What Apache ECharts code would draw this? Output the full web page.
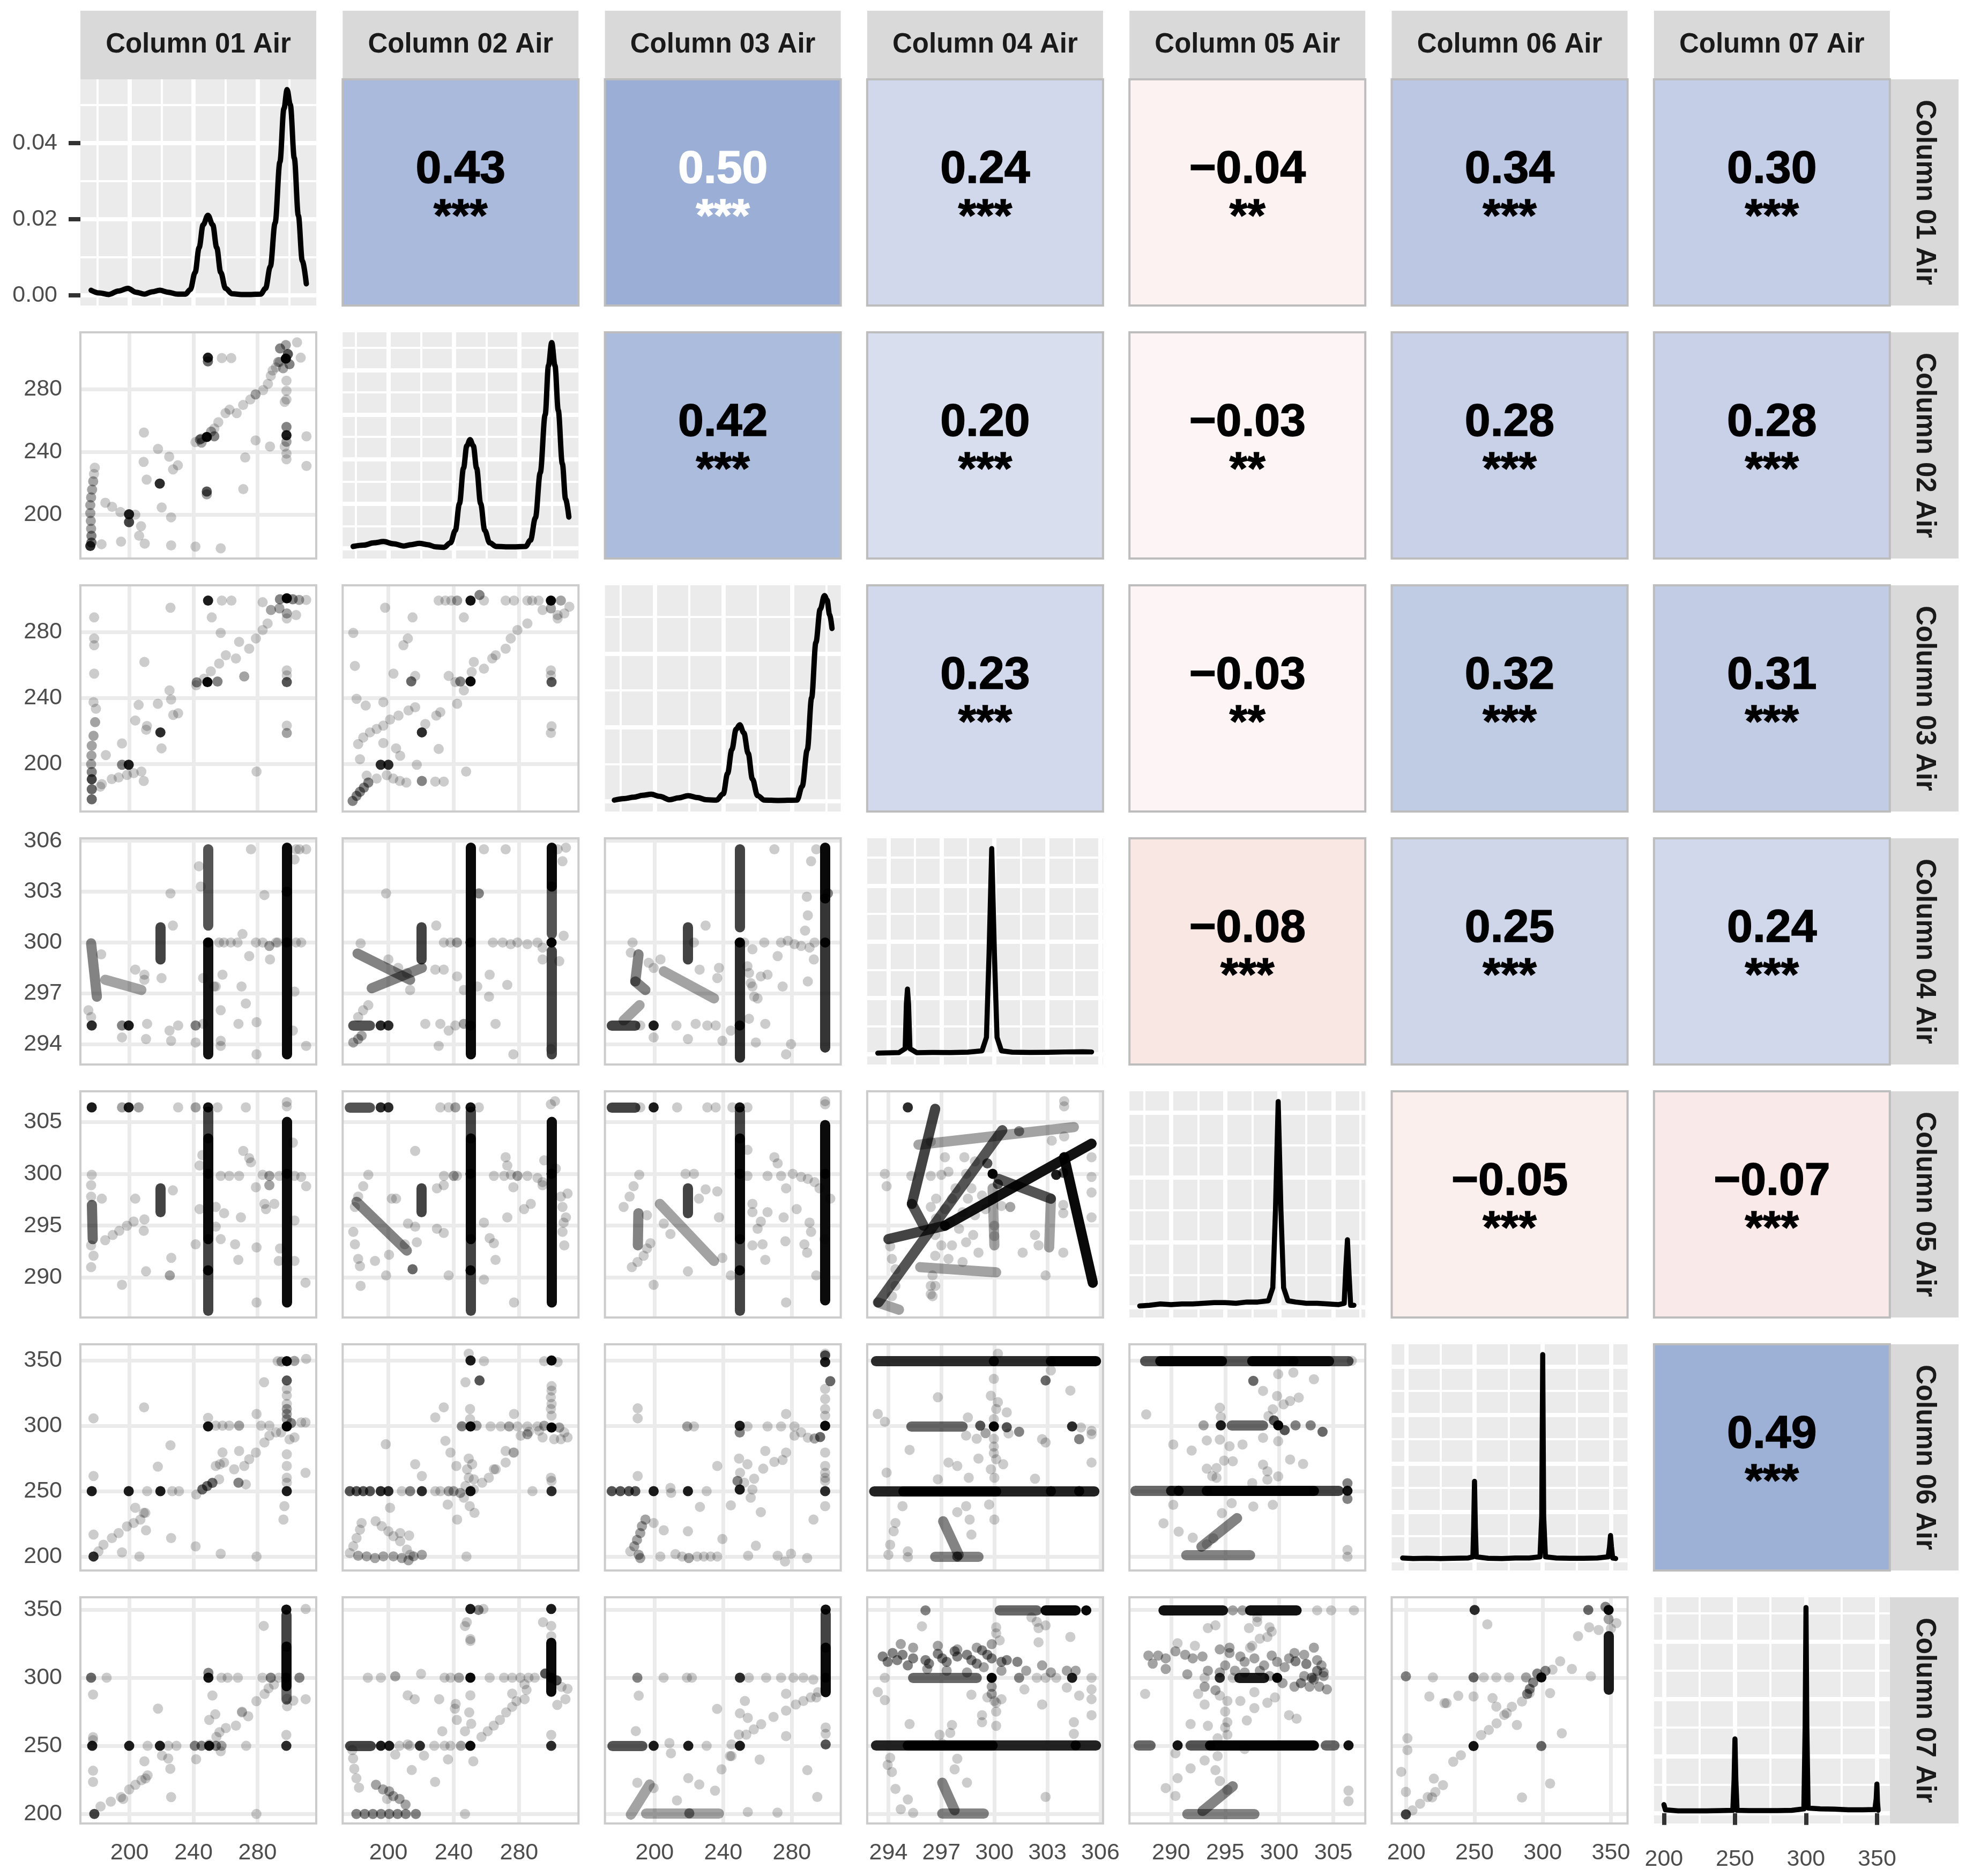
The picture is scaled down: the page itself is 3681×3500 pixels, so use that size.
<!DOCTYPE html>
<html><head><meta charset="utf-8">
<script src="https://cdn.jsdelivr.net/npm/echarts@6/dist/echarts.min.js"></script>
<style>html,body{margin:0;padding:0;background:#fff}#chart{width:3681px;height:3500px}</style>
</head><body><div id="chart"></div>
<script>
// ---------------- DATA ----------------
const VAR_NAMES = ['Column 01 Air','Column 02 Air','Column 03 Air','Column 04 Air','Column 05 Air','Column 06 Air','Column 07 Air'];
const VAR_MIN = [169.3, 172, 171, 292.8, 286.15, 189.3, 193];
const VAR_MAX = [316.7, 316.4, 308.5, 306.15, 307.95, 362.2, 359];
const VAR_BREAKS = [[200,240,280],[200,240,280],[200,240,280],[294,297,300,303,306],[290,295,300,305],[200,250,300,350],[200,250,300,350]];
const VAR_MINOR = [[180,220,260,300],[180,220,260,300],[180,220,260,300],[295.5,298.5,301.5,304.5],[287.5,292.5,297.5,302.5,307.5],[225,275,325],[225,275,325]];

// density curves (x, density)
const DENS_1 = [[176,0.0013],[181,0.0006],[187,0.0002],[193,0.0011],[199,0.0018],[204,0.0008],[209.5,0.0003],[214,0.0009],[219,0.0013],[224,0.0008],[230,0.0003],[235,0.0003],[238,0.0015],[241,0.006],[243.5,0.0125],[246,0.0185],[249,0.021],[252,0.0185],[254.5,0.0125],[257,0.006],[260,0.0018],[264,0.0004],[270,0.0002],[276,0.0002],[282,0.0003],[285,0.0018],[288,0.0075],[291,0.019],[294,0.035],[296.5,0.049],[298.5,0.054],[300.5,0.05],[303,0.036],[305.5,0.021],[308,0.009],[310.5,0.003]];
const DENS_2 = [[178.4,0.0004],[185,0.0007],[191,0.0012],[197,0.0015],[203,0.001],[209.5,0.0005],[214,0.0008],[219,0.0011],[224,0.0008],[229,0.0003],[234,0.0002],[238,0.0012],[241,0.004],[243.5,0.01],[246,0.018],[248,0.023],[250,0.0244],[252,0.023],[254,0.018],[256.5,0.01],[259,0.004],[262,0.0012],[266,0.0004],[275,0.0003],[284,0.0004],[287,0.0018],[290,0.0068],[293,0.017],[296,0.03],[298,0.041],[300,0.0462],[302,0.041],[304,0.031],[306.5,0.019],[308.5,0.011],[310.5,0.007]];
const DENS_3 = [[176.5,0.0003],[182,0.0007],[188,0.0011],[193,0.0016],[198,0.0019],[203,0.0013],[208.8,0.0004],[214,0.0009],[219.6,0.0015],[225,0.001],[230,0.0004],[236,0.0003],[240,0.002],[242.5,0.0075],[245,0.014],[247.5,0.0195],[249.6,0.0207],[252,0.0185],[254.5,0.013],[257,0.006],[260,0.0015],[264,0.0003],[272,0.0002],[283,0.0003],[286,0.004],[289,0.014],[291.5,0.028],[294,0.043],[296.5,0.052],[299,0.0557],[300.5,0.0545],[302,0.0505],[303.4,0.0468]];
const DENS_4 = [[293.4,0.01],[294,0.012],[294.6,0.015],[294.95,0.05],[295.02,0.45],[295.08,0.58],[295.14,0.45],[295.22,0.05],[295.6,0.014],[296.5,0.016],[297.5,0.015],[298.5,0.018],[299.3,0.03],[299.55,0.15],[299.7,0.9],[299.85,1.83],[300,0.9],[300.15,0.15],[300.4,0.03],[301,0.018],[302,0.016],[303,0.017],[304,0.02],[305,0.022],[305.5,0.02]];
const DENS_5 = [[287.1,0.002],[288,0.003],[289,0.005],[290,0.004],[291,0.005],[292,0.005],[293,0.006],[294,0.007],[295,0.007],[296,0.006],[297,0.008],[298,0.008],[299,0.01],[299.4,0.03],[299.65,0.15],[299.9,0.317],[300.15,0.15],[300.4,0.03],[300.8,0.01],[301.5,0.008],[302.5,0.006],[303.5,0.006],[304.5,0.005],[305.5,0.004],[306,0.006],[306.15,0.06],[306.3,0.104],[306.45,0.05],[306.6,0.003],[306.9,0.003]];
const DENS_6 = [[197.3,0.0009],[205,0.0007],[215,0.0008],[225,0.0007],[235,0.0008],[245,0.0009],[248.8,0.0014],[249.4,0.014],[250,0.0326],[250.6,0.014],[251.3,0.0014],[260,0.0008],[270,0.0007],[280,0.0009],[290,0.0009],[298,0.0014],[299.3,0.018],[300,0.085],[300.7,0.018],[302,0.0014],[310,0.0009],[320,0.0008],[330,0.0008],[340,0.0009],[348,0.0014],[349,0.0055],[349.7,0.0102],[350.4,0.0055],[351.3,0.0009],[353.5,0.0007]];
const DENS_7 = [[200,0.003],[201,0.0012],[210,0.0008],[220,0.0008],[230,0.0008],[240,0.0009],[248.5,0.001],[249.4,0.012],[250,0.026],[250.6,0.012],[251.5,0.001],[260,0.0009],[270,0.0009],[280,0.0009],[290,0.001],[298.5,0.0015],[299.4,0.03],[300,0.072],[300.6,0.03],[301.5,0.0018],[310,0.0015],[320,0.0014],[330,0.0012],[340,0.0012],[348.5,0.0013],[349.4,0.005],[349.9,0.0102],[350.3,0.004],[350.8,0.001]];
const DENS_PEAK = [0.054, 0.0462, 0.0557, 1.83, 0.317, 0.085, 0.072];
const DENS_BREAKS = [[0,0.02,0.04],[0,0.01,0.02,0.03,0.04],[0,0.02,0.04],[0,0.5,1,1.5],[0,0.1,0.2,0.3],[0,0.02,0.04,0.06,0.08],[0,0.02,0.04,0.06]];
const DENS_MINOR = [[0.01,0.03,0.05],[0.005,0.015,0.025,0.035,0.045],[0.01,0.03,0.05],[0.25,0.75,1.25,1.75],[0.05,0.15,0.25],[0.01,0.03,0.05,0.07],[0.01,0.03,0.05,0.07]];

// correlations (upper triangle): [row, col]
const CORR_CELLS = [[0,1],[0,2],[0,3],[0,4],[0,5],[0,6],[1,2],[1,3],[1,4],[1,5],[1,6],[2,3],[2,4],[2,5],[2,6],[3,4],[3,5],[3,6],[4,5],[4,6],[5,6]];
const CORR_VALUES = [0.43,0.50,0.24,-0.04,0.34,0.30,0.42,0.20,-0.03,0.28,0.28,0.23,-0.03,0.32,0.31,-0.08,0.25,0.24,-0.05,-0.07,0.49];
const CORR_STARS = ['***','***','***','**','***','***','***','***','**','***','***','***','**','***','***','***','***','***','***','***','***'];

// scatter points [x, y, overlapCount]; streaks [x1, y1, x2, y2, overlapCount]
const P12_PTS = [[249,300.2,10],[249,297.8,4],[257.7,300,1],[263.6,300,1],[297.7,299.6,20],[294.1,306.1,3],[297.7,308.3,2],[304.7,310,1],[307,300.2,1],[293,297.4,2],[300,296,3],[296,293.5,2],[299,302.5,5],
[241.2,246.3,1],[244.8,248.5,2],[253,255,1],[255.5,259,1],[260,264.8,1],[262.5,267,1],[267,264.8,1],[271,270,1],[275.5,273.5,1],[278.8,276.8,2],[283.5,279.5,1],[286.5,283.5,1],[288.3,288.7,1],[289.5,292,1],[291.5,294,1],[294,297.5,1],
[248.3,249.6,15],[244,248,3],[253,250,3],[245,246,2],[251,253,2],
[298.1,285.5,1],[298.1,279,1],[298.1,273.5,1],[297,272,1],[298.1,256,3],[298.1,250.7,10],[298.1,246.5,2],[297,243.5,1],[298.1,239,1],[298.1,235.4,1],
[310.6,250,1],[310.6,231.1,1],[278.8,247.4,1],[287.8,243.5,1],[272.3,236.5,1],[271.1,216.3,1],[248.3,214.8,5],[248.3,213,2],
[218.9,219.8,8],[209,252.4,1],[217.8,242,1],[224.8,237,1],[208.8,233.7,1],[230.2,231.5,1],[227.2,228.9,1],[210.7,222.4,1],[220.1,204.6,1],[226,198.3,1],
[199.7,200.2,10],[199.7,195.2,6],[184.9,207.6,1],[189.1,205,1],[194.3,201.7,1],[203.6,200,1],[207.2,192.6,1],[206,186.5,1],[194.7,182.8,1],[209.5,181.5,1],[226,180.4,1],[241.2,179.6,1],[257,178.5,1],
[178.3,230,1],[177.8,226,1],[177.3,221.3,2],[176.6,216,2],[176,211,2],[175.5,206.1,2],[175.5,201,2],[175.8,196,2],[176,191,2],[176.2,186.5,3],[176.2,182.2,4],[175.5,180,8],[182.5,181.1,1]];
const P12_SEGS = [];

const P13_PTS = [[249.1,299.2,10],[257.7,299.2,1],[263.7,299.2,1],[225.6,294.9,1],[177.9,289,1],[177.9,276.2,1],[177.9,272.1,1],[177.9,254.8,1],[209.3,261.9,1],[251.4,289,1],[257,279.6,1],
[298.3,300.6,20],[283.2,298.2,1],[288.4,293.5,2],[293.7,294.5,2],[298.3,291.4,2],[298.3,288.4,1],[304.1,290.4,1],[310.4,299.6,1],[306,299.6,2],[302,300,3],[294,300,3],
[241.7,247.7,1],[246.6,251.7,1],[250.8,256.2,1],[256,260.9,1],[260.2,266,1],[266.5,264,1],[268.5,274.1,1],[274.8,270,1],[279,276.2,1],[283.2,281.3,1],[286.3,285.3,1],[271.7,253.1,2],
[248.7,249.7,15],[242,249.5,3],[255,250,3],
[298.3,256.8,1],[298.3,253.8,1],[298.3,249.7,5],[298.3,223.2,1],[298.3,218.7,2],
[219.3,219.1,8],[225,244.6,1],[226,239.1,1],[217.7,236.5,1],[205.7,235.8,1],[210.9,223,1],[210.4,220.7,1],[203.6,226.3,1],[195.3,212.4,1],[185.2,205.3,1],[220,209.4,1],[227.3,229.7,1],[230.4,230.7,1],
[199.5,199.4,10],[195.3,199.4,3],[279.4,195.3,1],[208.9,189.6,1],[207.4,195.3,1],
[182.7,187.6,1],[188.9,190.7,1],[193.2,191.7,1],[198.4,193.2,1],[202.6,194.3,1],
[177.5,237.5,1],[179,233.5,1],[178.5,225.3,2],[177.5,217,2],[176.4,211,2],[176.2,205,2],[176,199.8,2],[176.4,195,3],[176.4,190.6,6],[176.4,184.5,4],[176.4,178.4,4],[181.7,186.1,1]];
const P13_SEGS = [];

const P23_PTS = [[230.8,299.2,1],[234.9,299.2,1],[238.5,299.2,1],[242.1,299.2,2],[250.3,299.2,12],[258.5,299.2,1],[255.8,302.6,3],[271.8,299.2,1],[276.9,299.2,1],[285.1,299.2,1],[299.5,299.2,20],[305.6,299.2,2],[310.8,295.5,1],[303.6,290.4,1],[307.7,291.4,1],[294.4,293.5,1],[303.6,288.4,1],[299.5,294.5,2],[288,299.2,1],[292,299.2,1],
[198,294.9,1],[214.8,289,1],[246.2,289,1],[178.5,279.6,1],[211.9,276.2,1],[209.2,272.1,1],[179.5,259.5,1],[203.1,254.8,1],[216.4,253.4,1],[214,250.1,4],
[236.9,253.4,1],[241,249.7,1],[246.2,244.6,1],[252.3,261.9,1],[251,255.8,1],[258.5,257.8,1],[263.6,264,1],[265.7,266,1],[271.8,270,1],[274.9,276.2,1],[279,281.3,1],[285.1,285.3,1],[242.1,236.5,1],
[250.3,250.1,15],[244,250,3],
[299.5,256.8,1],[299.5,253.8,1],[299.9,249.7,5],[299.9,222.8,1],[299.5,218.7,1],
[220.5,219.1,8],[230.8,209,1],
[181.5,212,1],[184.6,216,1],[188.7,219.1,1],[192.8,221.2,1],[196.9,223.2,1],[201,226.9,1],[206.2,229.3,1],[212.3,232.4,1],[216.4,234.4,1],[222.6,224.2,1],[229.3,229.3,1],[231.8,231.4,1],
[180.5,239.5,1],[186.1,235.4,1],[196.9,237.5,1],[182.6,202.8,1],[196.9,212.6,1],[204.7,209.4,1],[207.2,204.9,1],
[195.3,199.4,8],[200,199.4,8],[217.4,199.4,1],[247.6,195.3,1],
[199,193.1,1],[203,191,1],[207,189.6,1],[211,188.6,1],[220.5,189.6,3],[228.7,189.2,1],[233.9,189.2,1],
[178.1,177.4,3],[180.5,180.5,3],[182.6,183,3],[185,185.5,3],[187.7,188.6,3],[186.7,192.8,1],[192.8,191,1]];
const P23_SEGS = [];

const P14_PTS = [[249.1,300,15],[298.3,303,10],[298.3,300,20],
[174.3,296,1],[176,295.6,1],[176.4,295.1,8],[199.5,295.1,10],[195.3,295.1,3],[211,295.2,1],[195.3,294.4,1],[210.3,294.3,1],[225,294.8,1],[226,294.2,1],[230.4,295.1,1],
[225.6,302.9,1],[227.1,301,1],[203.6,298.4,1],[209.3,298.1,1],[209.3,297.8,1],[182.3,299.3,1],[220,297.9,1],[241.3,295.1,3],[246,295.2,1],
[256,300,1],[259,300,1],[263.3,300,1],[267.5,300,1],[270.6,300.5,1],[279,300,1],[283.2,300,1],[287.4,299.8,2],[291.6,300,1],
[275.9,305.5,1],[284.3,302.8,1],[257,294.2,1],[268.1,295.2,1],[272.7,296.4,1],[274.8,299.2,1],[270,297.4,1],[258.1,298.1,1],[253.9,297.4,1],[279.4,295.3,1],[279.4,293.4,1],[287.8,299,1],[292.6,300,1],
[304.1,300,1],[307.3,300,1],[310.4,293.9,1],[303.1,297.1,1],[302.1,294.8,1],[303.1,304.9,1],[310.4,305.5,1],[304.1,305.5,1],[306.2,305.5,1],
[243.4,304.5,1],[244.5,303.3,1],[246,297.9,1],[252.8,297.4,1],[257,296,1],[241.3,294.1,1],[257,293.9,1]];
const P14_SEGS = [[249.1,305.5,249.1,301,5],[249.1,300,249.1,293.4,12],[298.3,305.6,298.3,293.4,15],[219.3,300.9,219.3,299,6],[176,299.95,179.6,296.8,3],[184.8,297.8,207.4,297.2,2]];

const P24_PTS = [[299.9,300,20],[250.3,300,12],[250.3,295.1,8],
[255.4,302.9,3],[258.5,305.5,1],[271.8,305.5,1],[303.6,305.5,1],[308.7,305.6,1],[306.6,304.8,1],[229.3,301,1],[198.6,302.9,1],
[234,300,1],[238,300,1],[242,300,2],[264,300,1],[270,300,1],[274.9,299.9,1],[279,300,1],[285.1,299.9,1],[291.3,300,1],[294.4,299.7,1],
[307.3,300.4,1],[304.6,298.9,1],[294.4,299,1],[183,299.95,1],[200,299,1],[206,298.5,1],[211.3,298.2,1],[213.3,297.2,1],[228.7,298.4,1],[233.9,298.4,1],
[195.3,295.1,8],[200,295.1,8],[222.6,295.2,1],[231.8,295.2,1],[236.9,294.8,1],[241,295.1,1],[246.2,295.2,2],[265.6,295.2,1],
[178.5,294.1,2],[181.5,294.3,2],[183.6,294.5,2],[181.5,295.6,1],[184.5,296,1],[187.7,296.3,1],
[230.8,293.9,1],[276.5,293.4,1],[299.5,293.7,1],[242.1,298,1],[246.2,297.2,1],[254.4,297.4,1],[262,298.1,1],[272.8,297.5,1],[261.6,296.8,1]];
const P24_SEGS = [[250.3,305.6,250.3,293.4,15],[299.9,305.6,299.9,303.3,15],[299.9,303.3,299.9,300.5,5],[299.9,299.5,299.9,293.4,6],[220.1,300.9,220.1,299,6],[181.1,299.35,213.3,297.8,3],[189.8,297.3,220.5,298.5,3],[178.5,295.1,188.7,295.1,5]];

const P34_PTS = [[249.6,300,15],[249.6,295.1,8],[299.4,300,12],
[269.8,305.5,1],[294.2,305.5,1],[291.2,304.8,1],[288.7,302.7,1],[289.3,301.6,1],[301,302.9,3],[229.7,301,1],[222.9,300,1],
[252.2,300,1],[257,299.6,1],[263.9,300,1],[273.7,300,1],[277.6,300.1,1],[281.5,299.9,1],[285.4,299.8,1],[290.3,299.7,1],[293.2,300,1],
[187.1,300,1],[186.1,299.4,1],[196.5,298.8,1],[203.4,299,1],[199.4,298.5,1],
[199.4,295.1,10],[191.6,295.1,1],[199.4,294.4,1],[212.7,295.1,1],[223.9,295.2,1],[230.7,295.1,1],[235.6,295.1,1],[219.4,294.3,1],[239.5,294.2,1],
[226.2,298.4,1],[237.5,298.5,1],[236.5,297.9,1],
[254.1,298.6,1],[255,298.2,1],[256,297.6,1],[257,297.4,1],[258,296.8,1],[261.9,298,1],[265.8,298.1,1],[271.7,299.2,1],[274.6,297.4,1],[260,296.7,1],[255,295.5,1],[264.5,295.2,1],[259,294.1,1],[244.4,294.8,1],[276.6,293.4,1],[279.5,294,1],
[289.3,297.7,1],[287.7,300.7,1],[292.8,299,1]];
const P34_SEGS = [[249.6,305.5,249.6,300.9,6],[249.6,300,249.6,293.2,8],[299.4,305.6,299.4,302.6,15],[299.4,302.6,299.4,293.8,7],[219.4,300.9,219.4,299,6],[190.6,299.3,188.7,297.7,3],[188.7,297.7,194.6,297.2,3],[205.3,298.3,234.6,296.7,2],[191.2,296.3,181.9,295.4,2],[175,295.1,188.7,295.1,6]];

const P15_PTS = [[176.4,306.4,10],[199.5,306.4,10],[195.3,306.4,2],[205.7,306.4,2],[230.4,306.4,1],[249.1,306.4,12],[241.3,306.4,2],[255,306.4,1],[272.7,306.4,1],[298.3,306.9,1],[298.3,306.5,1],
[249.1,290.7,12],[176.4,299.9,1],[176,298.9,1],[176,297.8,1],[176,293.1,1],[177.5,292.1,1],[176,291,1],
[184.8,293.6,1],[189.5,294.1,1],[193.6,294.5,1],[198.4,295,1],[202.6,295.4,1],[208.9,294.5,1],[209.3,295.6,1],
[182.7,297.6,1],[203.6,297.6,1],[227.1,298.4,1],[210.3,290.6,1],[195.3,289.3,1],[225.2,290.2,2],[226.1,291.9,1],
[257,299.8,1],[262.3,299.8,1],[268.5,299.8,1],[283.2,299.9,1],[287.4,299.8,2],[293.7,299.8,1],[303.1,299.8,1],[307.3,299.7,1],[310.4,298.8,1],[298.3,300,15],[249.1,300,10],
[271.1,302.2,1],[274.8,301.5,1],[275.9,301.1,1],[279,298.7,1],[287.4,298.9,2],[284.3,297.1,1],[285.3,296.6,1],[290.5,297.1,1],
[253.9,296.8,1],[253.9,294.9,1],[259.1,296.2,1],[257,293.7,1],[266,293.2,1],[269.6,295.8,1],[268,291.7,1],[241.3,293.2,1],[243.8,296.6,1],[243.8,300.8,1],[245.5,301.8,1],
[279.4,287.6,1],[279.4,292.9,1],[293.3,291.6,1],[294.1,292.8,1],[303.1,295.5,1],[303.1,291.6,1],[310,289.5,1],[302.1,303,1]];
const P15_SEGS = [[249.1,306,249.1,303.4,6],[249.1,303.4,249.1,293.7,15],[249.1,293.7,249.1,286.8,6],[298.3,305,298.3,287.6,14],[219.3,298.6,219.3,296.3,6],[176.5,297,177,293.7,4]];

const P25_PTS = [[195.3,306.4,8],[200,306.4,8],[231.8,306.4,1],[236.9,306.4,1],[241,306.4,2],[250.3,306.4,12],[255.4,306.4,1],[299.5,306.7,1],[302,307,1],
[250.3,290.7,12],[250.3,300,10],[299.9,300,15],
[216.4,302.2,1],[187.7,299.9,1],[184.6,298.8,1],[181.5,297.8,1],[179.5,296.8,1],
[178.5,294.4,1],[179.5,293.2,1],[182.6,291.1,1],[181.5,291.8,1],[191.8,291.6,1],[200.4,292.2,1],[198.6,290.2,1],[183,289.2,1],[202.1,297.6,1],[204.7,297.6,1],[216.4,294.9,1],[217.4,293.4,1],[212,295.2,1],[210,293.2,1],
[214.8,290.8,4],[229.7,298.6,1],[233.9,298.9,1],[229.7,294.7,1],[233.9,294.3,1],[236.9,290.2,1],
[234,299.8,1],[240,299.8,2],[242,299.8,1],[264.6,299.8,1],[270.9,299.8,1],[275,299.9,1],[279,299.8,2],[285.1,299.8,1],[291.3,299.6,1],[294.4,299.2,1],
[271.8,301.6,1],[272.8,300.8,1],[276.5,298.7,1],[287.2,297.1,1],[283.1,296.6,1],[262,293.8,1],[264.6,293.3,1],[272.8,295.8,1],[265.6,291.7,1],[258.5,295.3,1],[258.5,289.8,1],[276.9,287.6,1],
[305.6,297.8,1],[306.6,296.8,1],[309.7,298.1,1],[308.7,295.8,1],[307.3,295.3,1],[306.6,294.4,1],[307.7,293.1,1],[294.4,298.9,1],[295.4,301.3,1],[302.5,300.5,1]];
const P25_SEGS = [[176.4,306.4,188.7,306.4,5],[250.3,306,250.3,303.4,6],[250.3,303.4,250.3,293.7,15],[250.3,293.7,250.3,286.8,6],[299.9,305,299.9,287.6,14],[220.1,298.6,220.1,296.3,6],[180.5,297.3,211.3,292.6,3]];

const P35_PTS = [[199.4,306.4,10],[191.6,306.4,1],[213.1,306.4,1],[230.7,306.4,1],[235.6,306.4,1],[249.6,306.4,12],[245.3,306.4,1],[254.1,306.4,1],[299.4,307,1],[299.4,306.7,1],
[249.6,290.7,12],[249.6,300,10],[299.4,300,15],[254.1,302.3,1],[269.8,301.6,1],[271.7,301,1],
[191,299.9,1],[187.7,298.8,1],[185.4,297.8,1],[181.9,296.8,1],[222.9,300,1],[218,300,1],
[205.3,295.2,1],[209.2,294.2,1],[195.5,296,1],[193.6,292.1,1],[190,291.5,1],[186.7,291,1],[197.5,293.3,1],[195.5,292.8,1],
[229.7,298.5,1],[225.8,297.6,1],[236.5,298.3,1],[237.5,295.8,1],[219.4,290.6,1],[199.4,289.3,1],[244.4,290.2,1],[239.5,291.9,1],
[254.1,299.8,1],[265.8,299.8,1],[273.7,299.8,1],[280.5,300,1],[285.4,299.7,1],[289.3,299.5,1],[293.2,299.2,1],[296.1,298.6,1],
[257,297.1,1],[265.8,296.3,1],[257,296.3,1],[260,294.7,1],[262.9,293.2,1],[257,293.1,1],[261.9,295.4,1],[264.5,291.7,1],[275.2,295.8,1],[276.6,298.6,1],[282.8,296.6,1],[290.3,295.3,1],[291.2,294.4,1],[288.9,292.4,1],[287.3,293.2,1],[276.2,293.5,1],[276.6,287.6,1],[294.2,290.2,1],[302.4,297.6,1],[299,293.7,1]];
const P35_SEGS = [[175,306.4,188.7,306.4,6],[249.6,306,249.6,303.4,6],[249.6,303.4,249.6,293.7,15],[249.6,293.7,249.6,286.8,6],[299.4,304.7,299.4,287.8,14],[219.4,298.6,219.4,296.2,6],[203,297.1,234.6,291.6,2],[190.5,296.2,190.2,293.1,3]];

const P45_PTS = [[295.1,306.4,8],[301.4,304.1,3],[299.9,300,20],[299.6,301,5],[300.2,299,5],[303.5,299.9,10],[303.9,300.1,5],
[303.95,307,1],[303.95,306.5,1],[303.95,303.6,1],[303.25,303.2,1],[305.5,301.6,1],[305.5,299.7,1],[305.5,298.2,1],[305.5,295.8,1],[303.9,297,1],[303.9,296.2,1],[303.9,292.4,1],[302.3,294.1,1],[302.5,293.1,1],[301.6,292.4,1],[302.9,290.2,1],[300.9,296.8,1],
[293.8,300,1],[293.9,298.8,1],[294.1,293,1],[294.2,291.8,1],[294.4,290.8,1],[294.4,289.2,1],[294.2,288.2,1],[296.4,289.2,1],[296.5,288.2,1],[295.3,299.8,1],[296.4,299.8,1],[297,299.9,1],
[296.4,303.1,1],[297.2,301.6,1],[298.3,301.6,1],[298.9,301.2,1],[297.4,300.2,1],[298.4,300,1],[297.8,298.6,1],[298.7,298.6,1],[296.7,297.6,1],[297.6,297.6,1],[298.5,297.6,1],[299.3,297.9,1],[296.4,296.8,1],[297.2,296.6,1],[298.2,296.3,1],[298.9,296,1],[296.7,295.7,1],[297.5,295.4,1],[298,294.7,1],[298.8,294.1,1],[296.65,294.1,1],[297,293.1,1],[297.6,293.1,1],[298.4,293.4,1],[299.1,292.4,1],[296.65,292.1,1],[297.4,291.8,1],[298.2,291.5,1],[296.5,290.2,1],[296.65,289.2,1],[296.4,288.4,1],[299.5,296.6,1],[300.4,296.9,1],[300.9,296.8,1],[300,295,1],[300,294,1]];
const P45_SEGS = [[296.65,306.26,295.33,297.1,6],[295.33,297.1,295.99,295,5],[295.7,302.8,304.5,304.5,2],[300.45,304.2,293.43,287.6,5],[294,293.7,297.2,295,6],[297.2,295,305.5,302.9,12],[300.25,299.5,303.2,297.6,5],[303.95,301.6,305.57,289.5,15],[303.2,297.6,303.1,292.9,2],[299.9,298.6,300,293.1,2],[295.8,291,300.1,290.5,2],[293.4,287.6,294.6,286.9,2]];

const P16_PTS = [[298.3,349.3,15],[292.6,349.3,1],[310.4,351,1],[303,349.5,2],[295,349,2],[298.3,334.5,5],
[298.3,328,1],[298.3,323,1],[298.3,316.6,1],[298.3,312.7,2],[298.3,308.9,2],[298.3,305,2],[298.3,299.4,20],[287.4,292.3,1],[291.6,294.8,1],[303.1,291,1],[300,289.5,1],[307.3,302.5,1],[294.7,294.8,1],[301,302,3],
[298.3,278.1,1],[298.3,269.2,1],[298.3,260.2,1],[298.3,256.4,1],[298.3,249.9,10],[296.8,238.5,1],[296.2,228.2,1],
[310,302.5,1],[310,264,1],[284.1,333.2,1],[279.4,308.9,1],
[249.1,299.4,12],[249.1,306,1],[253.9,300,1],[258.1,300,1],[262.3,300,1],[268.5,300,2],[282.2,300,1],[287.4,300,1],
[241.7,247.4,1],[245.5,251.3,4],[248.5,253.8,4],[251.8,256.3,4],[256,259,1],[253.9,269.2,1],[259.1,271.8,1],[265.4,266.6,1],[268.5,280.7,1],[271.7,269.2,1],[274.8,274.3,1],[279,279.4,1],[284.3,287.1,1],[268.1,256.4,3],[272.7,255.1,1],
[225.6,285,1],[217.7,268.7,1],[209.1,314,1],[177.5,305.6,1],[177.5,261.5,1],
[176.4,249.9,10],[199.5,249.9,10],[219.3,249.9,10],[211,249.9,1],[226.7,249.9,1],[230.9,249.9,1],[203.6,237.2,1],[208.9,233.3,1],
[177.5,200,8],[180.6,203.9,1],[183.7,209,1],[189,214.1,1],[193.2,217.9,1],[198.4,223,1],[202.6,225.6,1],[206.8,228.2,1],[209.9,233.3,1],
[177.5,216.7,1],[195.3,203.1,1],[206.2,200,1],[226,214.1,1],[210.3,220,1],[241.3,207.7,1],[257,202.1,1],[279.4,200,1],[258.1,279.5,1],[256.5,270.5,1]];
const P16_SEGS = [];

const P26_PTS = [[250.3,349.8,10],[258.5,349.3,1],[249.2,355,1],[255.8,334.5,5],[247.2,333.2,1],[233.9,314,1],[228.7,306.3,1],[250,312.7,1],[250,305,1],
[250.3,299.4,15],[245,299.5,3],[254,300,2],[262.6,299.4,1],[268.8,299.4,1],[273.9,299.4,2],[279,299.4,1],[285.1,299.4,1],[291.3,299.4,1],
[299.9,298.6,20],[295.4,299.9,2],[304.6,298.6,2],[307.7,294.8,1],[309.7,291,1],[305.6,289.7,1],[301.5,289.7,1],[294.4,291,1],[285.1,293.5,2],
[299.9,330.2,1],[299.9,326.8,1],[299.5,321.7,1],[299.9,316.6,1],[299.5,312.7,1],[299.9,307.6,1],[299.9,349.8,15],[295.4,349.3,1],[303.6,348.6,1],
[276.9,308.9,1],[271.8,280.7,1],[276.5,279.4,1],[264.6,266.6,1],[251.3,270.5,1],[249.2,274.8,1],
[234.9,288.4,1],[238,279.4,1],[241.6,269.2,1],[248.2,266.6,1],[252.3,259,1],
[246.2,244.9,1],[252.3,251.3,1],[257.4,256.4,1],[261.5,260.2,1],[265.7,266.6,1],[271.8,271.8,1],[276.9,279.4,1],[281,292.3,1],[286,295.3,1],[292.3,296.1,1],
[176.4,249.9,5],[180.5,249.9,5],[184.6,249.9,5],[188.7,249.9,5],[195.3,249.9,8],[200,249.9,8],[208.2,249.9,1],[213.3,249.9,3],[220.5,249.9,8],[228.7,249.9,1],[231.8,249.9,1],[236.9,249.9,2],[239.9,249.9,2],[244,248.6,2],[250.3,249.9,12],[247.2,253.8,1],[249.2,260.2,1],[249.8,238.5,1],[252.7,233.3,1],
[288.2,249.9,1],[299.9,249.9,8],[299.5,260.2,1],[299.9,257.7,1],
[220.5,261.5,1],[216.4,270.5,1],[242.1,228.2,1],[236.3,239.7,1],[247.8,200,1],[198.4,285.8,1],
[176.4,202.6,1],[178.5,207.8,1],[180.5,214.1,1],[182.6,220.5,1],[183.6,225.6,1],[192.2,227,1],[195.9,223.2,1],[200,219.3,1],[203.1,215.5,1],[207.2,211.6,1],[211.3,205.3,1],[213.3,201.3,1],
[181.5,200.6,2],[186.7,200.1,2],[191.8,198.8,2],[196.9,200.1,2],[203.1,200.1,2],[208.2,198.8,2],[212.3,197.1,2],[215.4,200.1,2],[220.5,201.3,2],
[201,237.2,1],[207.2,217.9,1],[212.7,216,1]];
const P26_SEGS = [];

const P36_PTS = [[299.4,353.7,5],[299.4,348.6,10],[299.4,355,1],[302.4,334,4],
[299.4,328.1,1],[299.4,320.4,1],[299.4,312.7,1],[299.4,307.6,1],[299.4,299.9,15],[296.5,291.3,4],[293.2,290.2,2],[289.3,290.8,1],[285.4,294.8,1],[281.5,292.3,1],
[299.4,279.4,1],[299.4,269.2,1],[299.4,264,1],[299.4,260.2,1],[299.4,257.7,1],[299.4,249.9,8],[299.4,238.5,1],[292.6,228.2,1],
[276.6,308.9,1],[249.6,299.9,10],[249.6,294.8,3],[254.1,299.4,1],[265.8,299.4,1],[273.7,299.4,1],[281.5,299.4,1],[219,299.4,2],[222.9,299.4,1],
[190.1,313.2,1],[190.1,305.6,1],
[264.5,280.7,1],[269.8,272.3,1],[274.6,273.8,1],[276.6,279.4,1],[249.2,274.8,1],[254.1,270.5,1],[249.8,264,1],[258,259.5,1],[263.3,267.1,1],[252.2,256.4,1],
[249.6,251.2,10],[248.3,257.7,3],[257,251.2,1],[256,244.9,1],[261.9,233.9,1],[244.4,239.1,1],[236.5,269.2,1],
[175,249.9,5],[180,249.9,5],[185,249.9,5],[188.7,249.9,5],[199.4,249.9,10],[209.2,252.4,1],[209.6,248.6,1],[219.4,249.9,10],[230.3,249.9,1],[226.4,237.9,1],[190.1,261.5,1],
[194.6,228.2,2],[192.6,223.2,2],[191.6,217.9,2],[189.7,212.7,2],[188.1,207.8,2],[185.8,203.9,1],[190.7,201.3,2],[191.6,198.8,2],[199.4,225.6,1],
[203.3,200,1],[212.1,201.8,1],[216,200,1],[219.9,198.8,2],[224.8,200,1],[228.7,200,1],[232.6,200,1],[236.5,200,1],
[205.3,220,1],[219.4,219.3,1],[239.5,213.4,1],[259,208.2,1],[254.5,200.6,1],[271.7,200.6,1],[276,196.2,1],[279.5,202.1,1],[288.9,198.8,1]];
const P36_SEGS = [];

const P46_PTS = [[299.97,349.3,10],[300.2,355,1],[299.97,335.8,1],[302.9,334.5,4],[303.2,342.2,1],[304.3,326.8,1],[296.8,321.7,1],[299.8,322.9,1],[300.2,318,1],[300.1,312.7,1],[300.7,310.2,1],[293.4,308.9,1],[293.8,303,1],[295.2,281.5,1],[297.4,271.8,1],[297.9,269.2,1],[299.8,266.6,1],[300.1,274.3,1],[300.5,270.5,1],[300,260.2,1],[299.1,274.8,1],[298.55,260.2,1],[302.3,259.5,1],[305.5,271.8,1],[293.9,264.1,1],[296.8,259,1],
[299.97,299.4,20],[299.2,300,5],[300.7,298.8,5],[298.5,306.3,1],[298.4,292.4,1],[299,290,1],[299.5,294.3,2],[300.8,294.1,1],[301.4,295.3,3],[302.9,287.1,1],[302.7,289.7,1],[304.4,299.4,8],[304.8,289.7,3],[304.9,298.6,1],[305.5,296,1],[305.5,293.5,1],[299.97,305,1],[299.97,290,1],[299.97,284,1],[299.97,279,1],
[294.8,238.5,1],[298.4,238.5,1],[299.7,239.7,1],[300,228.2,1],[298.6,228.2,1],[297.9,233.9,1],[294.4,225.6,1],[294.3,219.3,1],[294.1,209,1],[294,201.3,1],[295.1,203.9,1],[295.1,199.5,1],[298.7,216.7,1],
[303.2,249.9,8],[304.8,249.9,10],[297.9,200,4]];
const P46_SEGS = [[293.3,349.3,303.2,349.3,8],[303.2,349.3,305.75,349.3,20],[295.3,299.4,298.2,299.4,4],[293.2,249.9,305.66,249.9,9],[294.85,249.9,300.1,249.9,20],[297.1,226.9,297.98,201.3,3],[296.65,200,299.1,200,3]];

const P56_PTS = [[306.7,349.6,1],[297.6,334.2,4],[298.5,326.6,1],[299.9,339.4,1],[299.8,322.7,1],[301.3,340.6,1],[303.2,335.5,1],
[294.5,313.7,1],[294.6,306.6,1],[299,307.3,1],[299.4,312.5,1],[300.4,316.3,1],[301,318.9,1],[301.8,321.4,1],[287.7,308.6,1],
[293,300.2,2],[294.6,300.2,10],[299.9,300.2,20],[299.5,304,5],[300.5,296.5,5],[301.5,300.2,3],[302.9,300.2,3],[304,295.3,4],
[290.2,285.6,1],[291.9,281,1],[293.3,288.7,1],[294.5,289.4,1],[295.4,284.3,1],[296.6,285.6,1],[298.5,290.7,1],[299.9,288.1,1],[301,274.1,1],[302.2,270.7,1],[294.9,273.3,1],[295.7,272.8,1],[293.3,267.1,1],[294.2,267.6,1],[293.8,261.4,1],[294.2,260.2,1],[298.5,270.2,1],[298.9,265.1,1],[298.9,258.7,1],[299.9,261.2,1],[297.5,256.1,1],[299.4,239.5,1],[297.6,238.2,1],[295.6,240.7,1],[290.2,239.5,1],[289.3,225.4,1],[290.7,219,1],[292,214.4,1],[294.7,233.1,1],[293.3,209.3,1],[293.9,213.9,1],
[290.7,250.2,12],[306.3,250.2,12],[306.3,256,3],[306.3,244,3],[306.3,205,1],[306.3,199.8,1]];
const P56_SEGS = [[287.6,349.6,306.4,349.6,5],[289,349.6,294.7,349.6,15],[297.5,349.6,301.3,349.6,15],[301.3,349.6,304.6,349.6,9],[293.3,250.2,303.2,250.2,20],[286.7,250.2,290,250.2,4],[290,250.2,293.3,250.2,8],[303.2,250.2,305.5,250.2,6],[292.8,207.5,296.1,229.3,3],[291.4,201,297.3,201,3],[295.6,300.2,298.5,300.2,4]];

const P17_PTS = [[298,350,12],[310.1,350.4,1],[283.9,338,1],
[176,300,4],[185.7,300,1],[249.3,300,12],[257.5,300,1],[261.3,300,1],[267.7,300,1],[283.1,300,1],[288.3,300,3],[293.4,300,1],[298,300,20],[306.2,300,3],
[177.2,287.6,1],[217.8,277.3,1],[251.8,286.9,1],[253.6,273.1,1],[249.8,269,1],[249.3,303.5,3],
[241.6,240.1,1],[249.8,251,1],[254.3,256.5,1],[256.2,260,1],[260.2,263,1],[266.5,264.8,1],[270.3,274.5,1],[274.2,271.7,1],[279.3,282.8,1],[284.4,288,1],[286.9,292.2,1],[290.3,295,1],[270.3,275,1],
[298.5,284.6,1],[302.4,283.2,1],[310.1,284.2,1],[298.5,279,1],
[176.7,250,10],[199.8,250,10],[219,250,10],[211.3,250,1],[224.2,250,1],[229.3,250,1],[240.8,250,3],[245,250,3],[249.8,250,12],[254,250,3],[257.5,250,2],[272.9,250,1],[298,250,8],[298,258,1],[257,246,1],
[177.2,256.3,1],[177.2,254.2,1],[209.3,238.6,1],[210,226,1],[220.3,242.8,1],[224.2,240.7,1],[225.5,233.1,1],[226,212.4,1],[177.2,231.7,1],[177.2,223.5,1],
[178,200,6],[181.9,205.5,1],[188.3,209,1],[194.7,212.4,1],[199.8,218,1],[203.7,221.4,1],[207.5,224.8,1],[211.3,228.3,1],[196,211,1],[279.3,200,1]];
const P17_SEGS = [[298,346,298,322.8,6],[298,322.8,298,293.8,15],[298,293.8,298,284,4]];

const P27_PTS = [[250.2,350.4,10],[255.2,349.7,3],[258.2,350.4,1],[246.9,337.9,1],[248,340.7,1],[250.2,328.3,1],[250.2,326.9,1],
[299.7,350.4,10],[294.7,340.7,1],[299.7,338,1],[299.7,330.4,1],
[187.4,300,1],[195.4,300,1],[204.2,301,2],[220,302.8,1],[234.4,300,1],[238,300,1],[243.2,300,2],[250.2,300,15],[262,300,1],[270.8,300,1],[275.8,300,1],[280.8,300,1],[285.8,300,1],[289.6,300,1],[299.7,300,20],[296,303,5],[303,298,5],[306,293.2,1],[309.7,291.8,1],
[211.8,287,1],[216.1,284.2,1],[231.1,284.2,1],[250.2,287,1],
[257,256.5,1],[260.8,260.7,1],[264.5,264.8,1],[268.3,269,1],[272.1,274.5,1],[275.8,278.6,1],[278.4,282.8,1],[284.6,291,1],[283.4,295.2,1],
[241.2,280.7,1],[240.7,277.3,1],[241.9,269,1],[249.5,274.5,1],[250.7,266.2,1],[246.9,260.7,1],[275.8,288.3,1],[283.4,284.2,1],[308.4,284.2,1],[303.4,280,1],
[195.4,250,10],[200.5,250,10],[206.8,250,1],[213.1,250,1],[219.3,250,8],[228.1,250,1],[234.4,250,1],[238,250,1],[244.4,250,2],[250.2,250,15],[252,238.6,1],[299.7,250,8],[299.7,258,1],
[233,260.7,1],[221.8,242.8,1],[236.5,240,1],[211.8,251,1],[204.2,243.5,1],
[177.9,246.9,1],[178.4,240.7,1],[179.1,233.1,1],[180.4,226.2,1],[182,219.3,1],
[192.4,221.4,2],[196.7,218,2],[200.5,216.6,2],[203,213.1,2],[206.8,211,2],[210.5,206.9,2],
[180.4,200,3],[185.5,200,3],[190.5,200,3],[195.5,200,3],[200.5,200,3],[205.6,200,3],[210.6,200,3],[216.8,200,3],
[214.3,232.2,1],[228.6,223.5,1],[246.9,200,1],[199.2,211,1]];
const P27_SEGS = [[299.7,325.6,299.7,289.7,15],[176.6,250,189.2,250,6]];

const P37_PTS = [[299.7,350,12],[299.7,251,5],[299.7,258.8,1],[299.7,263.4,1],[294.3,285.5,1],[294.8,212.5,1],
[189.9,300,3],[205.2,300,1],[218.8,300,1],[221.7,300,1],[249.7,300,8],[254.9,300,1],[265,300,1],[273.7,300,1],[280.9,300,1],[286.7,300,1],[292.5,298.6,1],[299.7,300,15],
[190.7,286.8,1],[236.4,277.1,1],
[244.8,242.5,1],[253.4,258.2,1],[257.8,262,1],[262.1,265.9,1],[269.3,271.2,1],[276.6,275.8,1],[282.3,280.3,1],[286.7,282.9,1],[291,285.5,1],[295.3,289.4,1],
[249.7,273.8,1],[254.3,270.5,1],[252.6,282.9,1],[249.1,258.2,1],[276.6,288.2,1],[276.6,257.1,1],
[199.4,250,10],[219.6,250,10],[208.6,252,1],[230.3,250,1],[249.7,250,10],[244.8,251,1],[243.9,242.5,1],[239,232.7,1],[261.2,239.9,1],
[189,260.8,1],[209.5,244.5,1],[189.9,222.9,1],[199.4,219,1],[219.6,226.2,1],[226,221.6,1],[235.2,217.1,1],[213,209.9,1],[289,232.1,1],[254.3,201.4,1],[271.6,201,1],[220.2,200.5,3]];
const P37_SEGS = [[299.7,346.8,299.7,322,6],[299.7,322,299.7,289.4,15],[175.4,250,192.8,250,5],[186.1,199.5,197.1,221.6,2],[195,200.5,237.5,200.5,2]];

const P47_PTS = [[296.1,349.4,3],[305.2,349.4,15],
[302.1,344.2,1],[302.4,341,1],[302.9,338.3,1],[302.5,336.4,1],[300.1,337,1],[300.1,332.5,1],[300.3,327.3,1],[304.3,329.9,1],[302.5,326,1],[295.9,337.7,1],
[293.68,315.5,3],[294.24,318.1,3],[294.8,316.8,3],[294.5,312.9,3],[295.4,314.2,3],[293.96,311.6,3],[295.1,309,3],[296.1,312.9,3],[296.3,310.3,3],[296.8,317.5,3],[297.05,314.2,3],[297.3,311.6,3],[297.75,319.4,3],[297.9,315.5,3],[298.45,316.8,3],[298.7,312.9,3],[299,310.3,3],[299.3,320.1,3],[299.6,316.8,3],[299.85,314.2,3],[300.4,311.6,3],[300.7,312.9,3],[301.3,311.6,3],[294.7,324.7,2],[295.4,322,2],[296.8,323.4,2],[297.9,320.7,2],[299,322,2],[299.85,324.6,2],[296.2,306.4,2],[297.3,305.1,2],[298.45,303.8,2],[299.4,307.7,2],[300.4,305.1,2],[301.8,305.1,2],[302.7,309,2],[303.2,303.8,2],[304.1,305.1,2],[304.6,305.1,2],
[299.85,299.9,20],[301.4,299.9,3],[302.4,299.9,1],[302.9,299.9,1],[303.5,299.9,1],[304.4,299.9,10],[305.5,299.9,1],[293.8,299.9,1],
[299.85,293.4,2],[299.85,288.1,2],[300,282.9,1],[300.1,275.1,1],[300.1,281.6,1],
[293.4,289.5,1],[293.8,283.6,1],[298.7,287.5,1],[299.6,285.5,1],[300.4,284.2,1],[301.7,291.4,1],[302.7,280.3,1],[304.1,292.7,1],[304.8,286.8,1],[305.5,291.4,1],[305.5,284.2,1],[305.5,272.5,1],
[295.2,266,1],[297.6,265.3,1],[297.5,259.5,1],[296.9,258.1,1],[297.05,251.6,1],[299.3,272.5,1],[299.3,267.3,1],[300.1,264.7,1],
[296.5,250.3,10],[304.6,250.3,12],
[294.1,241.2,1],[293.96,236,1],[294.2,230.8,1],[294.4,218.4,1],[295.1,210.6,1],[294.7,203.4,1],[295.4,200.8,1],
[297.75,232.7,1],[298.45,223,1],[297.9,240.5,1],[302.9,212.5,1],[304.5,258.8,1],[304.5,267.3,1]];
const P47_SEGS = [[300.3,349.4,302.4,349.4,4],[302.9,349.4,304.6,349.4,15],[295.4,299.9,299,299.9,4],[293.3,250.3,305.75,250.3,9],[295.1,250.3,299.9,250.3,20],[297.05,222.9,297.75,202.7,3],[297.05,200.5,299.4,200.5,3]];

const P57_PTS = [[295.7,349.4,2],[296.6,349.4,2],[303.5,349.4,1],[304.8,349.4,1],[306.9,349.4,1],
[297.96,344.2,1],[297.96,341,1],[293.4,336.4,1],[294.1,338.4,1],[297.2,336.4,1],[299.1,337,1],[299.3,333.8,1],[298.2,328.6,1],[298.9,329.9,1],[297.5,323.4,1],[297.3,322,1],[290.6,325.3,1],[292.2,323.4,1],
[287.9,316.2,2],[288.8,316.2,2],[289.5,314.2,2],[290.4,319.4,2],[291.3,316.8,2],[292,314.2,2],[292.9,315.5,2],[294.5,320.7,2],[295.4,318.1,2],[296.4,315.5,2],[296.8,311.6,2],[297.7,314.2,2],[298.6,309,2],[299.3,316.2,2],[299.8,311.6,2],[300.5,307.7,2],[300.9,314.2,2],[301.4,318.1,2],[302.3,316.8,2],[303.2,322,2],[303.5,312.9,2],[303.9,309,2],[304.1,303.8,2],[304.1,301.2,2],[303.2,298.6,2],[303.7,293.4,2],[304.4,291.4,2],[295.4,322,2],[295,309,2],[293.4,305.1,2],[294.5,303.8,2],[295.9,305.1,2],[296.8,303.8,2],[298.2,305.1,2],[299.1,301.2,2],[300.3,296,2],[301.4,293.4,2],[302.3,301.2,2],[302.8,293.4,2],[288.3,310.3,2],[289.5,306.4,2],[291.5,302.5,2],[293.1,293.4,2],[294.1,290.8,2],
[302.5,310,3],[303.5,305,3],[301.5,312,3],[303,300,3],[302,296,3],
[294.5,299.9,8],[299.8,299.9,20],[293.1,299.9,1],[295.7,299.9,1],[303.2,299.9,1],
[287.6,288.1,1],[292.5,288.1,1],[294.5,286.8,1],[295.2,282.9,1],[296.4,282.9,1],[297.7,289.4,1],[298.9,281.6,1],[293.1,280.3,1],[295,275.1,1],[295.2,267.3,1],[297,268.6,1],[300.9,272.5,1],[301.6,269.9,1],[297.7,277.7,1],[299.6,285.5,1],
[290.6,250.3,12],[306.4,250.3,12],
[291.8,266,1],[293.4,264.7,1],[295,263.4,1],[294.3,255.5,1],[295.2,258.1,1],[290.4,244.5,1],[290.6,226.2,1],[289.5,219,1],[290.4,213.2,1],[294.3,242.5,1],[291.8,233.4,1],[293.1,239.2,1],[294.1,232.1,1],[294.5,224.2,1],[296.8,247.7,1],[295.2,217.7,1],[306.4,217.1,1],[306.4,209.3,1]];
const P57_SEGS = [[289.3,349.4,294.8,349.4,12],[297.3,349.4,301.6,349.4,12],[296.3,299.9,298.6,299.9,10],[287,250.3,288.1,250.3,4],[291.8,250.3,293.6,250.3,5],[293.6,250.3,303.2,250.3,20],[304.3,250.3,305.1,250.3,4],[292.9,202.1,295.7,220.3,3],[291.5,200.1,297.7,200.1,3]];

const P67_PTS = [[250.1,349.7,8],[333.4,349.7,4],[348.3,349.7,15],[346,352,3],
[259.4,339.1,1],[348.3,343,2],[354,340,1],[341,335,1],[325.9,330.5,1],[334,337,1],[350,336,1],
[199.7,301,3],[219.5,300.2,1],[238.1,286.7,1],[249.3,300.2,4],[249.3,286.2,1],[256.8,300.2,1],[266,300.2,1],[275.4,300.2,1],[287.8,300.2,2],[299,300.2,15],[293,296.5,3],[290.5,291.7,3],[288.6,288,3],[307.2,305.9,1],[312.8,312,1],[321.4,306.4,1],[335.3,301,1],[305.4,288.7,1],[296,303,3],[302,305,3],
[199.7,199.7,6],[204.5,202.6,1],[210.1,207.5,1],[215.7,212.4,1],[221.3,216.1,1],[226.9,221.1,1],[234.4,238.3,1],[240,243.1,1],[249.3,249.8,12],[254.9,257.9,1],[260.5,261.6,1],[266.2,266.5,1],[271.8,272.6,1],[277.4,278.7,1],[284.8,282.5,1],[290.4,288.7,1],
[229.5,281.3,1],[263.2,285,1],[266,278.8,1],[273.6,273.9,1],[281.1,265.3,1],[314,259.2,1],[305.4,222.3,1],[284.8,212.1,1],[200.8,255.5,1],[200.8,246.9,1],[196.3,230.9,1],[199.7,216.2,1],[216.9,286.2,1],[228,281.3,1],[220.2,225.9,1],[299,249.8,4],[218.9,212.2,1]];
const P67_SEGS = [[348.3,330.5,348.3,291.1,10]];

// [xVar, yVar, points, streaks]
const SCATTER_PANELS = [
  [0,1,P12_PTS,P12_SEGS],[0,2,P13_PTS,P13_SEGS],[1,2,P23_PTS,P23_SEGS],
  [0,3,P14_PTS,P14_SEGS],[1,3,P24_PTS,P24_SEGS],[2,3,P34_PTS,P34_SEGS],
  [0,4,P15_PTS,P15_SEGS],[1,4,P25_PTS,P25_SEGS],[2,4,P35_PTS,P35_SEGS],[3,4,P45_PTS,P45_SEGS],
  [0,5,P16_PTS,P16_SEGS],[1,5,P26_PTS,P26_SEGS],[2,5,P36_PTS,P36_SEGS],[3,5,P46_PTS,P46_SEGS],[4,5,P56_PTS,P56_SEGS],
  [0,6,P17_PTS,P17_SEGS],[1,6,P27_PTS,P27_SEGS],[2,6,P37_PTS,P37_SEGS],[3,6,P47_PTS,P47_SEGS],[4,6,P57_PTS,P57_SEGS],[5,6,P67_PTS,P67_SEGS]
];
const DENS_CURVES = [DENS_1, DENS_2, DENS_3, DENS_4, DENS_5, DENS_6, DENS_7];

// ---------------- LAYOUT / STYLE ----------------
const PX0 = 150, PSTEPX = 489.3, PW = 440;
const PY0 = 148, PSTEPY = 472, PH = 422;
const FONT = 'Liberation Sans';
const colLeft = i => PX0 + i * PSTEPX;
const rowTop = j => PY0 + j * PSTEPY;
const alpha = n => 1 - Math.pow(0.8, n);

function corrFill(v) {
  const stops = [[-0.1,[247,225,222]],[-0.05,[251,239,238]],[0,[255,255,255]],[0.2,[217,222,238]],[0.5,[155,175,214]]];
  if (v <= stops[0][0]) return 'rgb(' + stops[0][1].join(',') + ')';
  for (let k = 1; k < stops.length; k++) {
    if (v <= stops[k][0]) {
      const t = (v - stops[k-1][0]) / (stops[k][0] - stops[k-1][0]);
      const c = stops[k-1][1].map((a, i) => Math.round(a + (stops[k][1][i] - a) * t));
      return 'rgb(' + c.join(',') + ')';
    }
  }
  return 'rgb(' + stops[stops.length-1][1].join(',') + ')';
}

const option = { animation: false, backgroundColor: '#ffffff', grid: [], xAxis: [], yAxis: [], series: [], graphic: { elements: [] } };

function addGrid(c, r, bg) {
  option.grid.push({ left: colLeft(c), top: rowTop(r), width: PW, height: PH, show: !!bg, backgroundColor: bg || 'transparent', borderWidth: 0, containLabel: false });
  return option.grid.length - 1;
}
function makeAxis(gi, min, max, breaks, lineColor, lineWidth, labelOpt, tickOpt) {
  return {
    type: 'value', gridIndex: gi, min: min, max: max,
    axisLine: { show: false },
    axisTick: Object.assign({ show: false, customValues: breaks }, tickOpt || {}),
    axisLabel: Object.assign({ show: false, customValues: breaks }, labelOpt || {}),
    splitLine: { show: lineWidth > 0, lineStyle: { color: lineColor, width: lineWidth } },
    minorTick: { show: false }, minorSplitLine: { show: false }, splitArea: { show: false }
  };
}
const LABEL_BASE = { show: true, fontSize: 43, color: '#4D4D4D', fontFamily: FONT };
const TICK_ON = { show: true, length: 22, inside: false, lineStyle: { color: '#333333', width: 8 } };

// Diagonal density panels
for (let i = 0; i < 7; i++) {
  const gi = addGrid(i, i, '#EBEBEB');
  const P = DENS_PEAK[i];
  const ymin = -0.05 * P, ymax = 1.05 * P;
  const xLab = i === 6 ? Object.assign({}, LABEL_BASE, { margin: 46 }) : null;
  const xTick = i === 6 ? TICK_ON : null;
  const yLab = i === 0 ? Object.assign({}, LABEL_BASE, { margin: 43, formatter: v => Number(v).toFixed(2) }) : null;
  const yTick = i === 0 ? TICK_ON : null;
  option.xAxis.push(makeAxis(gi, VAR_MIN[i], VAR_MAX[i], VAR_BREAKS[i], '#FFFFFF', 8, xLab, xTick));
  const xi = option.xAxis.length - 1;
  option.yAxis.push(makeAxis(gi, ymin, ymax, DENS_BREAKS[i], '#FFFFFF', 8, yLab, yTick));
  const yi = option.yAxis.length - 1;
  option.xAxis.push(makeAxis(gi, VAR_MIN[i], VAR_MAX[i], VAR_MINOR[i], '#FFFFFF', 4));
  option.yAxis.push(makeAxis(gi, ymin, ymax, DENS_MINOR[i], '#FFFFFF', 4));
  option.series.push({
    type: 'line', xAxisIndex: xi, yAxisIndex: yi, data: DENS_CURVES[i], showSymbol: false, symbol: 'none', silent: true,
    smooth: i < 3 ? 0.35 : false, smoothMonotone: 'x', clip: true,
    lineStyle: { color: '#000000', width: i < 3 ? 10 : 9.5, join: 'round', cap: 'round' }, z: 3
  });
}

// Lower scatter panels
SCATTER_PANELS.forEach(function (p) {
  const c = p[0], r = p[1];
  const gi = addGrid(c, r, '#FFFFFF');
  const xLab = r === 6 ? Object.assign({}, LABEL_BASE, { margin: 34 }) : null;
  const yLab = c === 0 ? Object.assign({}, LABEL_BASE, { margin: 34 }) : null;
  option.xAxis.push(makeAxis(gi, VAR_MIN[c], VAR_MAX[c], VAR_BREAKS[c], '#EBEBEB', 7, xLab));
  const xi = option.xAxis.length - 1;
  option.yAxis.push(makeAxis(gi, VAR_MIN[r], VAR_MAX[r], VAR_BREAKS[r], '#EBEBEB', 7, yLab));
  const yi = option.yAxis.length - 1;
  if (p[3].length) {
    option.series.push({
      type: 'lines', coordinateSystem: 'cartesian2d', xAxisIndex: xi, yAxisIndex: yi, polyline: false, silent: true, z: 2,
      lineStyle: { color: '#000000', width: 19, cap: 'round', curveness: 0 },
      data: p[3].map(s => ({ coords: [[s[0], s[1]], [s[2], s[3]]], lineStyle: { opacity: alpha(s[4]) } }))
    });
  }
  option.series.push({
    type: 'scatter', xAxisIndex: xi, yAxisIndex: yi, symbolSize: 19, silent: true, z: 3,
    itemStyle: { color: '#000000' },
    data: p[2].map(q => ({ value: [q[0], q[1]], itemStyle: { opacity: alpha(q[2]) } }))
  });
  option.graphic.elements.push({ type: 'rect', z: 10, silent: true, shape: { x: colLeft(c), y: rowTop(r), width: PW, height: PH }, style: { fill: 'none', stroke: '#CCCCCC', lineWidth: 4 } });
});

// Upper correlation panels
CORR_CELLS.forEach(function (cell, k) {
  const r = cell[0], c = cell[1];
  const v = CORR_VALUES[k];
  const gi = addGrid(c, r, corrFill(v));
  option.xAxis.push(makeAxis(gi, 0, 1, [], '#000', 0));
  const xi = option.xAxis.length - 1;
  option.yAxis.push(makeAxis(gi, 0, 1, [], '#000', 0));
  const yi = option.yAxis.length - 1;
  const txt = (v < 0 ? '\u2212' : '') + Math.abs(v).toFixed(2);
  const col = Math.abs(v - 0.50) < 1e-9 ? '#FFFFFF' : '#000000';
  option.series.push({
    type: 'scatter', xAxisIndex: xi, yAxisIndex: yi, symbolSize: 1, silent: true, z: 4,
    itemStyle: { color: 'rgba(0,0,0,0)', opacity: 1 },
    label: { show: true, position: 'inside', formatter: q => q.name, fontSize: 86, fontWeight: 'bold', fontFamily: FONT,
      color: col, opacity: 1, textBorderWidth: 1.5, textBorderColor: col },
    data: [{ value: [0.5, 1 - 169 / PH], name: txt }, { value: [0.5, 1 - 259 / PH], name: CORR_STARS[k] }]
  });
  option.graphic.elements.push({ type: 'rect', z: 10, silent: true, shape: { x: colLeft(c), y: rowTop(r), width: PW, height: PH }, style: { fill: 'none', stroke: '#BDBDBD', lineWidth: 4 } });
});

// Strips
for (let i = 0; i < 7; i++) {
  option.graphic.elements.push({ type: 'rect', silent: true, shape: { x: colLeft(i), y: 20, width: PW, height: 128 }, style: { fill: '#D9D9D9' } });
  option.graphic.elements.push({ type: 'text', silent: true, x: colLeft(i) + PW / 2, y: 84,
    style: { text: VAR_NAMES[i], align: 'center', verticalAlign: 'middle', textAlign: 'center', textVerticalAlign: 'middle', fontSize: 51, fontWeight: 'bold', fontFamily: FONT, fill: '#1A1A1A' } });
  option.graphic.elements.push({ type: 'rect', silent: true, shape: { x: 3526, y: rowTop(i), width: 128, height: PH }, style: { fill: '#D9D9D9' } });
  option.graphic.elements.push({ type: 'text', silent: true, x: 3590, y: rowTop(i) + PH / 2, rotation: -Math.PI / 2,
    style: { text: VAR_NAMES[i], align: 'center', verticalAlign: 'middle', textAlign: 'center', textVerticalAlign: 'middle', fontSize: 51, fontWeight: 'bold', fontFamily: FONT, fill: '#1A1A1A' } });
}

const chart = echarts.init(document.getElementById('chart'), null, { renderer: 'canvas', width: 3681, height: 3500 });
chart.setOption(option);
</script>
</body></html>
